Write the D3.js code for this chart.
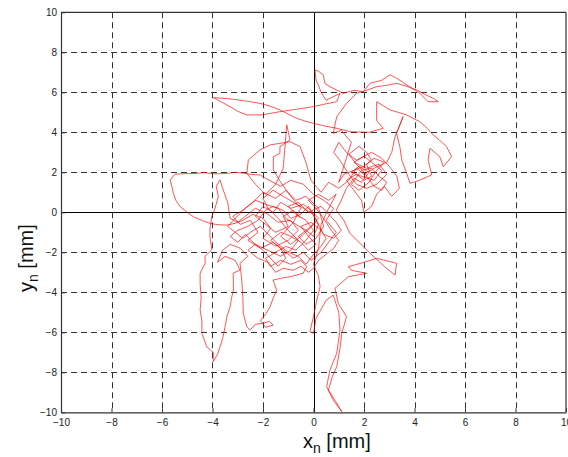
<!DOCTYPE html>
<html>
<head>
<meta charset="utf-8">
<script src="https://cdn.jsdelivr.net/npm/d3@7"></script>
<style>
  body { margin: 0; background: #fff; }
  svg { display: block; font-family: "Liberation Sans", Arial, sans-serif; }
</style>
</head>
<body>
<svg id="chart" width="568" height="457"></svg>
<script>
// tick values (mm)
var xTicks = [-10, -8, -6, -4, -2, 0, 2, 4, 6, 8, 10];
var yTicks = [-10, -8, -6, -4, -2, 0, 2, 4, 6, 8, 10];

// trajectory pieces [x_n, y_n] in mm in order
var centerA = [[-0.5,-0.3],[-0.8,0.1],[-1.2,-0.2],[-1.0,-0.7],[-1.5,-1.0],[-1.9,-0.6],[-2.3,-0.2],[-2.0,0.3],[-1.6,0.0],[-1.3,0.5],[-0.9,0.2],[-0.4,0.4],[-0.1,0.1],[0.2,-0.3],[-0.2,-0.8],[-0.6,-1.2],[-0.3,-1.6],[0.1,-1.3],[0.4,-0.7],[0.2,0.2],[-0.3,0.8],[-0.7,0.6],[-1.1,1.1],[-1.5,0.7],[-2.0,1.0],[-2.4,0.5],[-2.8,0.1],[-3.2,-0.2],[-2.9,-0.6],[-2.5,-0.4],[-2.2,-1.0],[-2.6,-1.4],[-2.1,-1.8],[-1.6,-1.5],[-1.2,-1.9],[-0.8,-2.3],[-0.4,-2.0],[-0.1,-2.4],[0.3,-2.0],[0.6,-1.5],[0.9,-1.0],[0.5,-0.4],[0.8,0.2],[0.4,0.6],[0.0,0.9],[-0.4,1.4],[-0.9,1.6],[-1.3,1.3]];
var leftLoop = [[-1.9,1.7],[-2.1,1.86],[-2.5,1.9],[-2.78,1.96],[-3.1,2.0],[-3.4,1.95],[-3.9,1.92],[-4.3,1.98],[-4.6,1.95],[-5.1,1.93],[-5.48,1.91],[-5.68,1.62],[-5.6,1.25],[-5.55,0.95],[-5.45,0.6],[-5.28,0.28],[-5.0,0.0],[-4.76,-0.22],[-4.4,-0.42],[-4.10,-0.55],[-3.8,-0.62],[-3.43,-0.64],[-3.1,-0.55],[-2.78,-0.39],[-2.4,-0.1],[-2.0,-0.3]];
var centerB = [[-1.7,-0.8],[-2.0,-1.3],[-1.5,-1.7],[-1.0,-1.4],[-0.6,-0.9],[-0.9,-0.4],[-1.4,-0.5],[-1.8,-0.1],[-2.3,0.2],[-2.7,-0.2],[-3.0,-0.5],[-3.3,-0.3]];
var leftDown = [[-3.4,0.5],[-3.6,1.2],[-3.70,1.62],[-3.85,1.3],[-3.77,0.78],[-3.9,0.2],[-4.03,-0.22],[-4.10,-0.8],[-4.10,-1.22],[-4.03,-1.88],[-4.3,-2.2],[-4.29,-2.55],[-4.49,-3.04],[-4.49,-3.55],[-4.45,-4.3],[-4.49,-4.89],[-4.42,-5.4],[-4.42,-6.05],[-4.23,-6.72],[-3.97,-7.0],[-3.97,-7.47],[-3.8,-7.1],[-3.70,-6.72],[-3.58,-6.22],[-3.5,-5.7],[-3.43,-5.22],[-3.30,-4.72],[-3.25,-4.3],[-3.17,-3.89],[-3.18,-3.04],[-2.91,-2.89],[-3.1,-2.4],[-3.5,-2.2],[-3.8,-2.5],[-3.6,-1.9],[-3.3,-1.6],[-2.9,-1.8],[-2.6,-2.2]];
var lowerHook = [[-2.91,-2.55],[-2.84,-3.39],[-2.8,-4.2],[-2.78,-5.05],[-2.64,-5.72],[-2.51,-5.89],[-2.3,-5.6],[-2.0,-5.55],[-1.75,-5.45],[-1.60,-5.64],[-1.9,-5.75],[-2.1,-5.4],[-1.9,-5.1],[-1.72,-4.72],[-1.6,-4.3],[-1.46,-3.89],[-1.60,-3.39],[-1.3,-3.3],[-0.93,-3.22],[-0.41,-3.05],[-0.27,-2.72],[-0.5,-2.4],[-0.9,-2.6],[-1.3,-2.4],[-1.7,-2.7],[-1.9,-2.3]];
var centerC = [[-1.5,-2.0],[-1.1,-1.7],[-0.7,-1.9],[-0.3,-1.4],[0.0,-0.9],[-0.3,-0.4],[-0.7,-0.1],[-1.0,0.3],[-0.6,0.5],[-0.2,0.0],[0.3,0.3],[0.6,-0.1],[0.9,-0.5],[1.1,-0.9],[0.8,-1.3],[0.4,-1.1]];
var centerD = [[-0.2,0.3],[-0.5,-0.1],[-0.9,-0.3],[-1.2,0.1],[-1.6,0.3],[-1.9,0.1],[-2.2,-0.4],[-2.6,-0.7],[-3.0,-0.9],[-3.3,-1.2],[-3.0,-1.5],[-2.7,-1.1],[-2.4,-1.5],[-2.0,-1.9],[-1.7,-2.3],[-1.4,-2.7],[-1.1,-2.3],[-1.3,-1.8],[-1.7,-1.4],[-1.3,-1.0],[-0.9,-1.2],[-0.5,-1.5],[-0.2,-1.9],[0.1,-1.6],[-0.2,-1.2],[-0.5,-0.7],[-0.1,-0.5],[0.3,-0.9],[0.5,-1.3],[0.3,-1.7],[0.0,-2.1],[-0.3,-2.6],[-0.6,-2.2],[-1.0,-2.0],[-1.4,-1.6],[-1.8,-1.1],[-2.1,-0.7],[-2.5,-1.0],[-2.8,-1.3],[-3.1,-1.0],[-3.4,-0.7],[-3.1,-0.3],[-2.7,0.2],[-2.3,0.6],[-1.9,0.4],[-1.4,0.2],[-1.1,-0.3],[-0.7,-0.6],[-0.3,-0.9],[0.0,-1.2],[0.2,-0.6],[0.0,-0.1],[-0.4,0.2],[-0.8,0.5],[-1.2,0.8],[-1.6,1.1],[-2.0,0.7],[-1.8,0.2],[-1.4,-0.3],[-1.0,-0.9],[-0.6,-1.4],[-0.9,-1.9],[-1.3,-2.2],[-1.8,-1.9],[-2.3,-1.6],[-2.6,-1.9],[-2.2,-2.3],[-1.8,-2.5],[-1.5,-3.0],[-1.2,-2.8],[-0.8,-2.9],[-0.5,-2.7],[-0.2,-3.0],[0.0,-2.8],[0.2,-2.4],[0.5,-2.1],[0.8,-1.8],[1.0,-1.4],[0.7,-0.9],[0.4,-0.3],[0.1,0.2],[-0.2,0.6],[0.2,0.9],[0.6,0.6],[0.9,0.9]];
var bottomRun = [[0.6,0.2],[0.3,-0.6],[0.2,-1.8],[0.0,-2.6],[0.2,-3.2],[0.26,-3.72],[0.13,-4.39],[0.0,-5.2],[-0.14,-5.97],[0.0,-6.05],[0.1,-5.3],[0.5,-4.4],[0.78,-4.14],[1.0,-5.0],[1.05,-5.89],[0.92,-7.05],[0.65,-7.89],[0.52,-8.72],[0.78,-9.39],[1.12,-9.97],[0.9,-9.5],[0.59,-8.89],[0.75,-8.2],[0.92,-7.72],[1.05,-6.8],[1.12,-6.05],[1.31,-5.22],[0.98,-4.55],[0.85,-3.80],[1.38,-3.22],[2.1,-3.05],[1.5,-2.9],[1.38,-2.72],[2.0,-2.5],[2.5,-2.3],[3.29,-2.55],[3.23,-3.14],[2.8,-2.7],[2.2,-2.0],[1.44,-1.05],[1.2,-0.4],[0.9,0.1]];
var rightCluster = [[1.1,0.6],[1.3,1.2],[1.6,1.7],[1.9,1.5],[2.2,2.0],[1.8,2.3],[1.5,2.0],[1.9,1.8],[2.4,1.6],[2.7,2.1],[2.3,2.5],[2.0,2.8],[1.6,2.5],[2.1,2.2],[2.6,2.4],[2.9,1.9],[2.5,1.4],[2.1,1.2],[1.7,1.4],[1.4,1.9],[1.1,2.5],[0.8,3.0],[1.0,3.5],[1.3,3.0],[1.7,2.6],[2.3,3.0],[2.7,2.7],[3.0,2.3],[3.3,1.8],[3.4,1.2],[3.1,0.8],[2.8,1.3],[2.5,0.9],[2.3,0.3],[2.0,0.0],[1.9,0.6]];
var rightClusterB = [[1.3,1.6],[1.7,1.9],[2.0,1.6],[2.3,1.8],[2.1,2.4],[2.4,2.7],[2.8,2.5],[2.5,2.1],[2.2,1.5],[1.8,1.1],[1.5,1.4],[1.9,2.1],[2.3,2.2],[2.6,1.8],[2.9,1.5],[2.7,1.1],[2.4,1.3],[2.0,2.0],[1.7,2.4],[1.4,2.9],[1.8,3.3],[2.1,3.0],[2.3,2.6],[2.0,2.3],[1.6,2.1],[1.2,1.9],[1.0,1.5]];
var topLoop = [[1.5,3.5],[1.1,4.1],[0.78,3.95],[0.92,4.78],[1.31,5.45],[1.71,5.95],[2.1,6.1],[2.5,6.28],[2.9,6.35],[3.29,6.45],[3.7,6.3],[4.08,6.12],[4.4,5.9],[4.74,5.7],[4.94,5.53],[4.54,5.53],[4.21,5.95],[3.9,6.2],[3.69,6.37],[3.3,6.7],[3.03,6.87],[2.7,6.6],[2.24,6.45],[1.97,6.03],[1.6,6.1],[1.18,5.95],[0.65,6.28],[0.45,6.45],[0.39,6.87],[0.2,7.05],[0.06,7.12],[0.1,6.6],[0.19,6.37],[0.3,6.0],[0.5,5.6]];
var longSweep = [[1.05,5.95],[0.92,5.53],[0.4,5.4],[-0.01,5.28],[-0.7,5.15],[-1.33,5.03],[-2.05,4.87],[-2.64,4.87],[-3.0,5.05],[-3.30,5.28],[-3.96,5.73],[-3.55,5.7],[-3.17,5.65],[-2.6,5.55],[-2.12,5.45],[-1.7,5.3],[-1.33,5.12],[-0.67,4.70],[-0.3,4.55],[-0.01,4.45],[0.5,4.3],[0.92,4.20],[1.44,4.03],[2.2,4.0],[2.76,4.2]];
var rightLoop = [[2.5,4.6],[2.5,5.53],[3.03,5.12],[3.69,4.87],[4.21,4.53],[4.5,4.2],[4.74,3.87],[5.0,3.6],[5.27,3.28],[5.47,2.78],[5.14,2.28],[5.0,2.78],[4.61,3.2],[4.54,2.62],[4.68,1.87],[4.2,1.6],[3.82,1.45],[3.69,1.95],[3.5,2.6],[3.42,3.28],[3.29,3.95],[3.55,4.78],[3.23,3.78],[3.1,3.0],[2.9,2.5]];
var returnUp = [[2.4,2.2],[2.0,1.9],[1.7,2.2],[1.4,1.6],[1.0,1.2],[0.6,1.5],[0.3,1.0],[-0.1,1.6],[-0.3,2.5],[-0.53,3.28],[-0.93,3.53],[-1.33,3.45],[-1.72,3.37],[-2.12,3.12],[-2.58,2.62],[-2.64,1.95],[-2.3,1.4],[-1.9,0.9],[-1.5,1.4],[-1.2,2.2],[-1.06,4.37],[-0.93,3.62],[-1.33,3.28],[-1.33,2.95],[-1.59,2.78],[-1.59,2.12],[-1.3,1.5],[-0.9,0.8],[-0.5,0.2],[-0.8,-0.5],[-1.3,-1.2],[-0.9,-1.6],[-0.4,-1.1],[0.1,-0.5]];

var trace = [].concat(centerA, leftLoop, centerB, leftDown, lowerHook, centerC, centerD,
    bottomRun, rightCluster, rightClusterB, topLoop, longSweep, rightLoop, returnUp);

var svg = d3.select("#chart");
var x = d3.scaleLinear().domain([-10, 10]).range([61, 566]);
var y = d3.scaleLinear().domain([-10, 10]).range([412.3, 12.3]);

svg.append("defs").append("clipPath").attr("id", "plot")
    .append("rect")
    .attr("x", 61).attr("y", 12.3).attr("width", 505).attr("height", 400);

// dashed grid
var grid = svg.append("g").attr("stroke", "#333").attr("stroke-width", 1).attr("stroke-dasharray", "6,4");
grid.selectAll("line.v")
    .data(xTicks.filter(function (d) { return d > -10 && d < 10; }))
    .enter().append("line")
    .attr("x1", function (d) { return Math.round(x(d)) + 0.5; })
    .attr("x2", function (d) { return Math.round(x(d)) + 0.5; })
    .attr("y1", y(10)).attr("y2", y(-10));
grid.selectAll("line.h")
    .data(yTicks.filter(function (d) { return d > -10 && d < 10; }))
    .enter().append("line")
    .attr("y1", function (d) { return Math.round(y(d)) + 0.5; })
    .attr("y2", function (d) { return Math.round(y(d)) + 0.5; })
    .attr("x1", x(-10)).attr("x2", x(10));

// zero lines
svg.append("line").attr("x1", Math.round(x(0)) + 0.5).attr("x2", Math.round(x(0)) + 0.5)
    .attr("y1", y(10)).attr("y2", y(-10)).attr("stroke", "#000").attr("stroke-width", 1);
svg.append("line").attr("x1", x(-10)).attr("x2", x(10))
    .attr("y1", Math.round(y(0)) + 0.5).attr("y2", Math.round(y(0)) + 0.5).attr("stroke", "#000").attr("stroke-width", 1);

// trajectory
var line = d3.line()
    .x(function (d) { return x(d[0]); })
    .y(function (d) { return y(d[1]); });
svg.append("path")
    .datum(trace)
    .attr("clip-path", "url(#plot)")
    .attr("d", line)
    .attr("fill", "none")
    .attr("stroke", "#ff0000")
    .attr("stroke-width", 0.9)
    .attr("stroke-opacity", 0.75)
    .attr("stroke-linejoin", "round");

// axes (ticks inside, like matlab)
var xAxis = svg.append("g")
    .attr("transform", "translate(0," + y(-10) + ")")
    .call(d3.axisBottom(x).tickValues(xTicks).tickSize(-4).tickPadding(7).tickSizeOuter(0));
var yAxis = svg.append("g")
    .attr("transform", "translate(" + x(-10) + ",0)")
    .call(d3.axisLeft(y).tickValues(yTicks).tickSize(-4).tickPadding(4).tickSizeOuter(0));
[xAxis, yAxis].forEach(function (a) {
    a.select(".domain").attr("stroke", "#333").attr("stroke-width", 1.2);
    a.selectAll(".tick line").attr("stroke", "#333");
    a.selectAll(".tick text").attr("fill", "#222").attr("font-size", 10)
        .attr("font-family", "Liberation Sans, Arial, sans-serif");
});
// box top and right
svg.append("line").attr("x1", x(-10)).attr("x2", x(10)).attr("y1", y(10)).attr("y2", y(10))
    .attr("stroke", "#333").attr("stroke-width", 1.2);
svg.append("line").attr("x1", x(10)).attr("x2", x(10)).attr("y1", y(10)).attr("y2", y(-10))
    .attr("stroke", "#333").attr("stroke-width", 1.2);

// axis labels
var xl = svg.append("text").attr("x", 303).attr("y", 448).attr("font-size", 20).attr("fill", "#111");
xl.append("tspan").text("x");
xl.append("tspan").attr("font-size", 14).attr("dy", 5).text("n");
xl.append("tspan").attr("dy", -5).text(" [mm]");

var yl = svg.append("text").attr("transform", "translate(33,292) rotate(-90)")
    .attr("font-size", 20).attr("fill", "#111");
yl.append("tspan").text("y");
yl.append("tspan").attr("font-size", 14).attr("dy", 5).text("n");
yl.append("tspan").attr("dy", -5).text(" [mm]");
</script>
</body>
</html>
